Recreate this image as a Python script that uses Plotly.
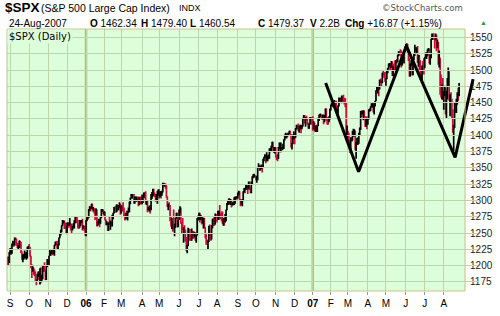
import plotly.graph_objects as go
import pandas as pd

# ---------------- data ----------------
HOLIDAYS = ["2005-09-05", "2005-11-24", "2005-12-26", "2006-01-02", "2006-01-16",
            "2006-02-20", "2006-04-14", "2006-05-29", "2006-07-04", "2006-09-04",
            "2006-11-23", "2006-12-25", "2007-01-01", "2007-01-02", "2007-01-15",
            "2007-02-19", "2007-04-06", "2007-05-28", "2007-07-04"]

OPENS = [
    1205.1, 1212.3, 1208.4,
    1220.3, 1221.6, 1218.0, 1233.4, 1236.4, 1231.7, 1241.5, 1240.6, 1231.2, 1227.2, 1227.7, 1237.9, 1231.0, 1221.3, 1210.2, 1214.6, 1215.3, 1215.6, 1215.7, 1216.9, 1227.7,
    1228.8, 1226.7, 1214.5, 1196.4, 1191.5, 1195.9, 1187.3, 1184.9, 1177.7, 1176.8, 1186.6, 1190.1, 1178.1, 1195.8, 1177.8, 1179.6, 1199.4, 1196.5, 1191.4, 1178.9, 1198.4,
    1207.0, 1202.8, 1215.0, 1219.9, 1220.1, 1222.8, 1218.6, 1220.7, 1231.0, 1234.7, 1233.8, 1229.0, 1231.2, 1242.8, 1248.3, 1254.9, 1261.2, 1265.6, 1268.3, 1257.5, 1257.4,
    1249.5, 1264.7, 1265.1, 1262.1, 1263.7, 1257.4, 1255.8, 1259.4, 1260.4, 1267.4, 1272.7, 1270.9, 1267.3, 1259.9, 1259.6, 1262.8, 1268.1, 1268.7, 1256.5, 1258.2, 1254.4,
    1248.3, 1268.8, 1273.5, 1273.4, 1285.5, 1290.2, 1289.7, 1294.2, 1286.1, 1287.6, 1283.0, 1277.9, 1285.0, 1261.5, 1263.8, 1266.9, 1264.7, 1273.8, 1283.7, 1285.2,
    1280.1, 1282.5, 1270.8, 1264.0, 1265.0, 1254.8, 1265.7, 1263.8, 1267.0, 1262.9, 1275.5, 1280.0, 1289.4, 1287.2, 1283.0, 1292.7, 1287.8, 1289.4, 1294.1,
    1280.7, 1291.2, 1289.1, 1287.2, 1278.3, 1275.9, 1278.5, 1272.2, 1281.4, 1284.1, 1297.5, 1303.0, 1305.3, 1307.3, 1305.1, 1297.2, 1305.0, 1301.7, 1303.0, 1301.6, 1293.2, 1302.9, 1300.3,
    1294.9, 1297.8, 1305.9, 1311.6, 1309.0, 1295.5, 1296.6, 1286.6, 1288.1, 1289.1, 1285.3, 1307.7, 1309.9, 1311.5, 1311.3, 1308.1, 1301.7, 1305.4, 1309.7,
    1310.6, 1305.2, 1313.2, 1308.1, 1312.3, 1325.8, 1324.7, 1325.1, 1322.9, 1305.9, 1291.2, 1294.5, 1292.1, 1270.3, 1261.8, 1267.0, 1262.1, 1256.6, 1258.6, 1272.9, 1280.2, 1259.9,
    1270.1, 1285.7, 1288.2, 1265.3, 1263.9, 1256.2, 1257.9, 1252.3, 1237.4, 1223.7, 1230.0, 1256.2, 1251.5, 1240.1, 1240.0, 1252.2, 1245.6, 1244.5, 1250.6, 1239.2, 1246.0, 1272.9,
    1270.2, 1280.2, 1270.9, 1274.1, 1265.5, 1267.3, 1272.4, 1258.6, 1242.3, 1236.2, 1234.5, 1236.9, 1259.8, 1249.1, 1240.3, 1260.9, 1268.9, 1268.4, 1263.2, 1278.6,
    1276.7, 1270.9, 1277.4, 1280.3, 1279.4, 1275.8, 1271.5, 1266.0, 1271.8, 1266.7, 1268.2, 1285.6, 1295.4, 1297.5, 1302.3, 1297.5, 1298.8, 1293.0, 1296.1, 1295.1, 1301.8, 1304.3, 1305.4,
    1303.8, 1311.0, 1313.3, 1300.3, 1294.0, 1298.9, 1299.5, 1313.0, 1318.1, 1316.3, 1319.7, 1321.2, 1317.6, 1325.2, 1318.0, 1314.8, 1326.4, 1336.3, 1336.6, 1338.9,
    1335.9, 1331.3, 1334.1, 1350.2, 1353.2, 1349.6, 1350.7, 1353.4, 1350.0, 1362.8, 1365.6, 1369.1, 1364.1, 1366.0, 1367.0, 1368.6, 1377.0, 1377.4, 1382.2, 1389.1, 1377.3, 1377.8,
    1377.9, 1367.8, 1367.3, 1364.3, 1379.8, 1382.8, 1385.7, 1378.3, 1380.9, 1384.4, 1393.2, 1396.6, 1399.8, 1401.2, 1400.5, 1402.8, 1406.1, 1401.0, 1382.0, 1386.7, 1399.5,
    1400.6, 1396.7, 1409.1, 1414.8, 1412.9, 1407.3, 1409.8, 1413.0, 1411.6, 1413.2, 1425.5, 1427.1, 1422.5, 1425.6, 1423.5, 1418.3, 1410.8, 1416.9, 1426.8, 1424.7,
    1418.3, 1416.6, 1418.3, 1409.7, 1412.8, 1412.1, 1414.9, 1423.8, 1430.7, 1431.9, 1430.6, 1426.4, 1430.5, 1423.0, 1428.0, 1440.1, 1423.9, 1422.2, 1420.6, 1428.8,
    1438.2, 1445.9, 1448.4, 1447.0, 1448.0, 1450.0, 1448.3, 1438.1, 1433.4, 1444.3, 1455.3, 1456.8, 1455.5, 1459.7, 1457.6, 1456.4, 1451.2, 1449.4, 1399.0,
    1406.8, 1403.2, 1387.2, 1374.1, 1395.4, 1392.0, 1401.9, 1402.8, 1406.6, 1378.0, 1387.2, 1392.3, 1387.0, 1402.1, 1410.9, 1435.0, 1434.5, 1436.1, 1437.5, 1428.6, 1417.2, 1422.5,
    1420.9, 1424.6, 1437.8, 1439.4, 1443.8, 1444.6, 1448.4, 1438.9, 1447.8, 1452.9, 1468.3, 1471.5, 1472.5, 1470.7, 1484.4, 1480.9, 1480.4, 1495.4, 1494.3, 1494.1,
    1482.4, 1486.3, 1495.9, 1502.4, 1505.6, 1509.5, 1507.7, 1512.6, 1491.5, 1505.9, 1503.2, 1501.2, 1514.1, 1512.8, 1522.8, 1525.1, 1524.1, 1522.3, 1507.5, 1515.7, 1518.1, 1530.2,
    1530.6, 1536.3, 1539.2, 1531.0, 1517.4, 1490.7, 1507.7, 1509.1, 1493.0, 1515.7, 1523.0, 1532.9, 1531.1, 1533.7, 1512.8, 1522.2, 1502.6, 1497.7, 1492.9, 1506.3, 1505.7,
    1503.4, 1519.4, 1524.9, 1525.4, 1530.4, 1531.9, 1510.1, 1518.8, 1547.7, 1552.5, 1549.5, 1549.4, 1546.2, 1553.1, 1534.1, 1541.6, 1511.0, 1518.1, 1482.7, 1459.0, 1473.9,
    1455.3, 1465.8, 1472.2, 1433.1, 1467.7, 1476.7, 1497.5, 1453.1, 1453.6, 1452.9, 1426.5, 1406.7, 1411.3, 1445.9, 1445.6, 1447.1, 1464.1, 1462.3,
]

HIGHS = [
    1214, 1213, 1221,
    1227, 1224, 1234, 1238, 1237, 1243, 1243, 1241, 1235, 1232, 1238, 1238, 1236, 1222, 1217, 1218, 1223, 1220, 1221, 1229, 1230,
    1233, 1229, 1215, 1202, 1199, 1197, 1194, 1191, 1179, 1187, 1191, 1191, 1196, 1197, 1186, 1200, 1200, 1205, 1192, 1199, 1210,
    1208, 1215, 1224, 1222, 1225, 1223, 1226, 1232, 1237, 1237, 1238, 1233, 1243, 1249, 1255, 1262, 1270, 1269, 1269, 1266, 1261,
    1266, 1266, 1266, 1273, 1265, 1264, 1261, 1265, 1270, 1275, 1276, 1275, 1270, 1263, 1270, 1269, 1270, 1272, 1262, 1261, 1255,
    1270, 1276, 1276, 1287, 1291, 1291, 1295, 1295, 1290, 1288, 1284, 1288, 1286, 1268, 1272, 1272, 1276, 1287, 1287, 1286,
    1283, 1283, 1271, 1268, 1266, 1266, 1275, 1269, 1267, 1278, 1281, 1290, 1290, 1292, 1294, 1293, 1293, 1297, 1295,
    1292, 1292, 1297, 1289, 1279, 1281, 1284, 1284, 1289, 1298, 1304, 1310, 1310, 1310, 1310, 1306, 1306, 1306, 1304, 1306, 1305, 1306, 1303,
    1309, 1307, 1312, 1312, 1314, 1300, 1300, 1290, 1292, 1292, 1310, 1313, 1318, 1318, 1312, 1310, 1310, 1315, 1317,
    1317, 1314, 1314, 1315, 1327, 1327, 1326, 1326, 1323, 1306, 1295, 1297, 1293, 1275, 1273, 1268, 1286, 1264, 1273, 1281, 1281, 1270,
    1286, 1291, 1289, 1266, 1273, 1259, 1262, 1255, 1244, 1232, 1258, 1257, 1256, 1250, 1257, 1253, 1253, 1251, 1251, 1247, 1273, 1277,
    1281, 1281, 1278, 1275, 1274, 1273, 1273, 1259, 1248, 1240, 1239, 1261, 1263, 1250, 1262, 1272, 1273, 1276, 1280, 1279,
    1277, 1284, 1284, 1293, 1280, 1283, 1283, 1273, 1272, 1279, 1286, 1296, 1300, 1303, 1303, 1302, 1301, 1297, 1298, 1305, 1306, 1306, 1306,
    1312, 1315, 1314, 1302, 1301, 1302, 1314, 1319, 1319, 1324, 1325, 1322, 1329, 1329, 1319, 1329, 1337, 1340, 1341, 1339,
    1338, 1338, 1351, 1357, 1354, 1353, 1355, 1354, 1364, 1367, 1371, 1370, 1374, 1369, 1370, 1380, 1380, 1384, 1390, 1390, 1382, 1382,
    1382, 1369, 1371, 1382, 1389, 1389, 1389, 1382, 1387, 1394, 1401, 1404, 1402, 1404, 1404, 1407, 1407, 1402, 1388, 1401, 1406,
    1403, 1411, 1416, 1416, 1418, 1414, 1416, 1414, 1416, 1427, 1431, 1431, 1428, 1430, 1427, 1419, 1418, 1428, 1428, 1428,
    1429, 1422, 1419, 1415, 1416, 1415, 1427, 1432, 1433, 1433, 1431, 1432, 1432, 1431, 1441, 1441, 1428, 1427, 1429, 1441,
    1447, 1450, 1449, 1450, 1454, 1451, 1453, 1440, 1446, 1458, 1457, 1457, 1461, 1460, 1462, 1457, 1457, 1450, 1415,
    1407, 1404, 1392, 1397, 1397, 1407, 1410, 1409, 1407, 1390, 1396, 1397, 1404, 1412, 1437, 1438, 1438, 1438, 1438, 1429, 1426, 1429,
    1425, 1440, 1441, 1444, 1449, 1449, 1449, 1449, 1453, 1469, 1474, 1475, 1474, 1485, 1487, 1484, 1496, 1499, 1497, 1497,
    1488, 1499, 1503, 1510, 1511, 1510, 1514, 1513, 1506, 1510, 1515, 1515, 1517, 1523, 1529, 1529, 1532, 1530, 1518, 1521, 1531, 1536,
    1540, 1541, 1540, 1532, 1518, 1510, 1515, 1511, 1516, 1526, 1539, 1535, 1535, 1537, 1523, 1523, 1515, 1506, 1507, 1514, 1518,
    1520, 1527, 1527, 1532, 1534, 1533, 1523, 1548, 1556, 1556, 1556, 1550, 1556, 1554, 1547, 1543, 1530, 1519, 1493, 1478, 1488,
    1468, 1476, 1473, 1468, 1488, 1504, 1498, 1463, 1466, 1456, 1440, 1416, 1450, 1451, 1456, 1466, 1473, 1480,
]

LOWS = [
    1201, 1201, 1204,
    1217, 1217, 1218, 1231, 1229, 1231, 1239, 1231, 1227, 1225, 1227, 1228, 1219, 1209, 1205, 1209, 1211, 1211, 1209, 1211, 1224,
    1225, 1214, 1196, 1181, 1191, 1186, 1184, 1175, 1170, 1175, 1183, 1178, 1171, 1173, 1175, 1179, 1190, 1191, 1178, 1178, 1198,
    1202, 1201, 1215, 1215, 1218, 1216, 1217, 1215, 1231, 1231, 1226, 1225, 1231, 1242, 1246, 1251, 1261, 1265, 1256, 1257, 1249,
    1249, 1261, 1258, 1262, 1254, 1250, 1254, 1257, 1257, 1265, 1265, 1267, 1257, 1256, 1258, 1261, 1265, 1254, 1256, 1253, 1246,
    1245, 1268, 1270, 1273, 1284, 1283, 1287, 1285, 1283, 1280, 1270, 1278, 1260, 1261, 1263, 1259, 1264, 1273, 1283, 1279,
    1277, 1269, 1262, 1262, 1253, 1253, 1263, 1255, 1260, 1260, 1271, 1280, 1284, 1281, 1282, 1284, 1285, 1289, 1278,
    1280, 1283, 1284, 1275, 1269, 1271, 1272, 1269, 1281, 1282, 1294, 1303, 1303, 1303, 1295, 1295, 1298, 1298, 1299, 1291, 1293, 1294, 1294,
    1294, 1296, 1304, 1303, 1294, 1293, 1282, 1285, 1283, 1280, 1285, 1302, 1306, 1307, 1305, 1298, 1300, 1295, 1307,
    1303, 1305, 1303, 1307, 1312, 1322, 1321, 1318, 1304, 1290, 1285, 1290, 1268, 1260, 1256, 1252, 1255, 1245, 1258, 1272, 1259, 1259,
    1270, 1280, 1264, 1249, 1255, 1235, 1250, 1237, 1222, 1219, 1230, 1247, 1238, 1238, 1238, 1241, 1241, 1243, 1238, 1235, 1246, 1270,
    1270, 1266, 1270, 1263, 1265, 1257, 1257, 1242, 1232, 1232, 1224, 1236, 1248, 1238, 1240, 1257, 1261, 1261, 1263, 1274,
    1266, 1270, 1270, 1273, 1271, 1268, 1264, 1261, 1261, 1266, 1268, 1285, 1293, 1293, 1295, 1293, 1289, 1292, 1292, 1293, 1295, 1302, 1301,
    1303, 1308, 1299, 1291, 1294, 1291, 1299, 1312, 1311, 1316, 1317, 1310, 1318, 1316, 1311, 1311, 1325, 1334, 1335, 1335,
    1331, 1327, 1331, 1350, 1345, 1346, 1348, 1343, 1350, 1360, 1365, 1357, 1360, 1360, 1363, 1364, 1374, 1376, 1381, 1376, 1373, 1372,
    1366, 1362, 1360, 1364, 1379, 1374, 1374, 1377, 1378, 1379, 1392, 1396, 1395, 1397, 1399, 1402, 1399, 1381, 1378, 1386, 1394,
    1386, 1396, 1409, 1409, 1406, 1404, 1409, 1403, 1409, 1413, 1425, 1418, 1413, 1423, 1416, 1410, 1410, 1416, 1423, 1416,
    1407, 1409, 1406, 1405, 1405, 1405, 1414, 1422, 1428, 1427, 1424, 1424, 1417, 1420, 1427, 1422, 1416, 1416, 1420, 1424,
    1438, 1445, 1443, 1443, 1447, 1444, 1434, 1431, 1433, 1444, 1453, 1450, 1449, 1452, 1450, 1447, 1443, 1396, 1397,
    1386, 1387, 1373, 1374, 1390, 1392, 1398, 1398, 1377, 1364, 1385, 1385, 1387, 1400, 1408, 1428, 1432, 1423, 1427, 1413, 1413, 1409,
    1416, 1424, 1436, 1437, 1443, 1442, 1435, 1432, 1444, 1452, 1467, 1464, 1460, 1470, 1480, 1474, 1480, 1492, 1488, 1482,
    1476, 1486, 1495, 1501, 1505, 1500, 1503, 1491, 1491, 1498, 1500, 1501, 1510, 1512, 1521, 1523, 1522, 1504, 1507, 1513, 1510, 1528,
    1530, 1532, 1525, 1514, 1490, 1490, 1506, 1492, 1492, 1515, 1522, 1529, 1525, 1511, 1505, 1498, 1492, 1490, 1484, 1503, 1493,
    1503, 1519, 1517, 1521, 1529, 1510, 1508, 1518, 1546, 1546, 1547, 1533, 1546, 1529, 1534, 1508, 1504, 1462, 1458, 1455, 1454,
    1439, 1460, 1432, 1426, 1455, 1476, 1453, 1429, 1451, 1425, 1404, 1371, 1411, 1434, 1434, 1447, 1453, 1460,
]

CLOSES = [
    1212.3, 1208.4, 1220.3,
    1221.6, 1218.0, 1233.4, 1236.4, 1231.7, 1241.5, 1240.6, 1231.2, 1227.2, 1227.7, 1237.9, 1231.0, 1221.3, 1210.2, 1214.6, 1215.3, 1215.6, 1215.7, 1216.9, 1227.7, 1228.8,
    1226.7, 1214.5, 1196.4, 1191.5, 1195.9, 1187.3, 1184.9, 1177.7, 1176.8, 1186.6, 1190.1, 1178.1, 1195.8, 1177.8, 1179.6, 1199.4, 1196.5, 1191.4, 1178.9, 1198.4, 1207.0,
    1202.8, 1215.0, 1219.9, 1220.1, 1222.8, 1218.6, 1220.7, 1231.0, 1234.7, 1233.8, 1229.0, 1231.2, 1242.8, 1248.3, 1254.9, 1261.2, 1265.6, 1268.3, 1257.5, 1257.4, 1249.5,
    1264.7, 1265.1, 1262.1, 1263.7, 1257.4, 1255.8, 1259.4, 1260.4, 1267.4, 1272.7, 1270.9, 1267.3, 1259.9, 1259.6, 1262.8, 1268.1, 1268.7, 1256.5, 1258.2, 1254.4, 1248.3,
    1268.8, 1273.5, 1273.4, 1285.5, 1290.2, 1289.7, 1294.2, 1286.1, 1287.6, 1283.0, 1277.9, 1285.0, 1261.5, 1263.8, 1266.9, 1264.7, 1273.8, 1283.7, 1285.2, 1280.1,
    1282.5, 1270.8, 1264.0, 1265.0, 1254.8, 1265.7, 1263.8, 1267.0, 1262.9, 1275.5, 1280.0, 1289.4, 1287.2, 1283.0, 1292.7, 1287.8, 1289.4, 1294.1, 1280.7,
    1291.2, 1289.1, 1287.2, 1278.3, 1275.9, 1278.5, 1272.2, 1281.4, 1284.1, 1297.5, 1303.0, 1305.3, 1307.3, 1305.1, 1297.2, 1305.0, 1301.7, 1303.0, 1301.6, 1293.2, 1302.9, 1300.3, 1294.9,
    1297.8, 1305.9, 1311.6, 1309.0, 1295.5, 1296.6, 1286.6, 1288.1, 1289.1, 1285.3, 1307.7, 1309.9, 1311.5, 1311.3, 1308.1, 1301.7, 1305.4, 1309.7, 1310.6,
    1305.2, 1313.2, 1308.1, 1312.3, 1325.8, 1324.7, 1325.1, 1322.9, 1305.9, 1291.2, 1294.5, 1292.1, 1270.3, 1261.8, 1267.0, 1262.1, 1256.6, 1258.6, 1272.9, 1280.2, 1259.9, 1270.1,
    1285.7, 1288.2, 1265.3, 1263.9, 1256.2, 1257.9, 1252.3, 1237.4, 1223.7, 1230.0, 1256.2, 1251.5, 1240.1, 1240.0, 1252.2, 1245.6, 1244.5, 1250.6, 1239.2, 1246.0, 1272.9, 1270.2,
    1280.2, 1270.9, 1274.1, 1265.5, 1267.3, 1272.4, 1258.6, 1242.3, 1236.2, 1234.5, 1236.9, 1259.8, 1249.1, 1240.3, 1260.9, 1268.9, 1268.4, 1263.2, 1278.6, 1276.7,
    1270.9, 1277.4, 1280.3, 1279.4, 1275.8, 1271.5, 1266.0, 1271.8, 1266.7, 1268.2, 1285.6, 1295.4, 1297.5, 1302.3, 1297.5, 1298.8, 1293.0, 1296.1, 1295.1, 1301.8, 1304.3, 1305.4, 1303.8,
    1311.0, 1313.3, 1300.3, 1294.0, 1298.9, 1299.5, 1313.0, 1318.1, 1316.3, 1319.7, 1321.2, 1317.6, 1325.2, 1318.0, 1314.8, 1326.4, 1336.3, 1336.6, 1338.9, 1335.9,
    1331.3, 1334.1, 1350.2, 1353.2, 1349.6, 1350.7, 1353.4, 1350.0, 1362.8, 1365.6, 1369.1, 1364.1, 1366.0, 1367.0, 1368.6, 1377.0, 1377.4, 1382.2, 1389.1, 1377.3, 1377.8, 1377.9,
    1367.8, 1367.3, 1364.3, 1379.8, 1382.8, 1385.7, 1378.3, 1380.9, 1384.4, 1393.2, 1396.6, 1399.8, 1401.2, 1400.5, 1402.8, 1406.1, 1401.0, 1382.0, 1386.7, 1399.5, 1400.6,
    1396.7, 1409.1, 1414.8, 1412.9, 1407.3, 1409.8, 1413.0, 1411.6, 1413.2, 1425.5, 1427.1, 1422.5, 1425.6, 1423.5, 1418.3, 1410.8, 1416.9, 1426.8, 1424.7, 1418.3,
    1416.6, 1418.3, 1409.7, 1412.8, 1412.1, 1414.9, 1423.8, 1430.7, 1431.9, 1430.6, 1426.4, 1430.5, 1423.0, 1428.0, 1440.1, 1423.9, 1422.2, 1420.6, 1428.8, 1438.2,
    1445.9, 1448.4, 1447.0, 1448.0, 1450.0, 1448.3, 1438.1, 1433.4, 1444.3, 1455.3, 1456.8, 1455.5, 1459.7, 1457.6, 1456.4, 1451.2, 1449.4, 1399.0, 1406.8,
    1403.2, 1387.2, 1374.1, 1395.4, 1392.0, 1401.9, 1402.8, 1406.6, 1378.0, 1387.2, 1392.3, 1387.0, 1402.1, 1410.9, 1435.0, 1434.5, 1436.1, 1437.5, 1428.6, 1417.2, 1422.5, 1420.9,
    1424.6, 1437.8, 1439.4, 1443.8, 1444.6, 1448.4, 1438.9, 1447.8, 1452.9, 1468.3, 1471.5, 1472.5, 1470.7, 1484.4, 1480.9, 1480.4, 1495.4, 1494.3, 1494.1, 1482.4,
    1486.3, 1495.9, 1502.4, 1505.6, 1509.5, 1507.7, 1512.6, 1491.5, 1505.9, 1503.2, 1501.2, 1514.1, 1512.8, 1522.8, 1525.1, 1524.1, 1522.3, 1507.5, 1515.7, 1518.1, 1530.2, 1530.6,
    1536.3, 1539.2, 1531.0, 1517.4, 1490.7, 1507.7, 1509.1, 1493.0, 1515.7, 1523.0, 1532.9, 1531.1, 1533.7, 1512.8, 1522.2, 1502.6, 1497.7, 1492.9, 1506.3, 1505.7, 1503.4,
    1519.4, 1524.9, 1525.4, 1530.4, 1531.9, 1510.1, 1518.8, 1547.7, 1552.5, 1549.5, 1549.4, 1546.2, 1553.1, 1534.1, 1541.6, 1511.0, 1518.1, 1482.7, 1459.0, 1473.9, 1455.3,
    1465.8, 1472.2, 1433.1, 1467.7, 1476.7, 1497.5, 1453.1, 1453.6, 1452.9, 1426.5, 1406.7, 1411.3, 1445.9, 1445.6, 1447.1, 1464.1, 1462.5, 1479.4,
]

MONTH_LABELS = ["S", "O", "N", "D", "<b>06</b>", "F", "M", "A", "M", "J", "J", "A",
                "S", "O", "N", "D", "<b>07</b>", "F", "M", "A", "M", "J", "J", "A"]
Y_TICKS = [1175, 1200, 1225, 1250, 1275, 1300, 1325, 1350, 1375, 1400, 1425,
           1450, 1475, 1500, 1525, 1550]

# hand-drawn "W" pattern line (trading-day position, price)
W_DAY = [352.3, 388.7, 441.6, 495.6, 515.5]
W_VAL = [1480, 1344, 1537, 1366, 1486]

# ---------------- calendar ----------------
dates = pd.bdate_range("2005-08-29", "2007-08-24")
dates = dates[~dates.isin(pd.to_datetime(HOLIDAYS))]
n = len(dates)
assert n == len(OPENS) == len(HIGHS) == len(LOWS) == len(CLOSES), (
    n, len(OPENS), len(HIGHS), len(LOWS), len(CLOSES))
days = list(range(n))
month_start = [i for i in range(1, n) if dates[i].month != dates[i - 1].month]
year_start = [i for i in month_start if dates[i].month == 1]

# ---------------- style / geometry ----------------
W, H = 500, 316
ML, MR, MT, MB = 7, 20, 29, 19
PLOT_RIGHT = 467
AREA_W = W - ML - MR
AREA_H = H - MT - MB
MAIN_FRAC = (PLOT_RIGHT - ML) / AREA_W

BG = "#dcfedb"
GRID = "#bcd6a8"
YEARGRID = "#aabf88"
BORDER = "#c6c28c"
RED = "#d0073b"
TXT = "#222222"
SANS = "Liberation Sans, Arial, sans-serif"
VERD = "DejaVu Sans, Verdana, sans-serif"

XR = [-0.5, 506.6]
X2R = [XR[0], XR[0] + (XR[1] - XR[0]) / MAIN_FRAC]
YR = [1161, 1563]

fig = go.Figure()
# red (down) bars first, black (up) bars drawn over them
for want_up, color in ((False, RED), (True, "#000000")):
    sel = [i for i in days if (CLOSES[i] > OPENS[i]) == want_up]
    fig.add_trace(go.Ohlc(
        x=[days[i] for i in sel],
        open=[OPENS[i] for i in sel], high=[HIGHS[i] for i in sel],
        low=[LOWS[i] for i in sel], close=[CLOSES[i] for i in sel],
        increasing=dict(line=dict(color=color, width=1.7)),
        decreasing=dict(line=dict(color=color, width=1.7)),
        tickwidth=0.5, hoverinfo="skip", showlegend=False,
        xaxis="x", yaxis="y"))
fig.add_trace(go.Scatter(
    x=W_DAY, y=W_VAL, mode="lines", line=dict(color="#000000", width=3),
    hoverinfo="skip", showlegend=False, xaxis="x2", yaxis="y"))


def px_x(px):
    return (px - ML) / AREA_W


def px_y(py):
    return (H - MB - py) / AREA_H


def note(text, x, y, size, family=SANS, color=TXT, xanchor="left"):
    return dict(text=text, x=px_x(x), y=px_y(y), xref="paper", yref="paper",
                xanchor=xanchor, yanchor="middle", showarrow=False,
                font=dict(size=size, family=family, color=color))


annotations = [
    note("<b>$SPX</b>", 3, 6.5, 13.5, color="#000"),
    note("(S&amp;P 500 Large Cap Index)", 39, 7.5, 10.5, color="#000"),
    note("INDX", 177.5, 8, 9, color="#000"),
    note("24-Aug-2007", 6.5, 23, 10, color="#000"),
    note("<b>O</b> 1462.34", 88.5, 23, 10, color="#000"),
    note("<b>H</b> 1479.40", 139.5, 23, 10, color="#000"),
    note("<b>L</b> 1460.54", 188.5, 23, 10, color="#000"),
    note("<b>C</b> 1479.37", 257.5, 23, 10, color="#000"),
    note("<b>V</b> 2.2B", 309.5, 23, 10, color="#000"),
    note("<b>Chg</b> +16.87 (+1.15%)", 344.5, 23, 10, color="#000"),
    note("\u25B2", 486, 22, 7, color="#2e9a3c", xanchor="center"),
    note("\u00A9StockCharts.com", 467, 7.5, 8.5, family=VERD, color="#555",
         xanchor="right"),
    dict(text="$SPX (Daily)", x=0, y=1, xref="x domain", yref="y domain",
         xanchor="left", yanchor="top", showarrow=False, bgcolor=BG,
         borderpad=1, font=dict(size=10, family=VERD, color="#000")),
]

shapes = [dict(type="rect", xref="x domain", yref="y domain", x0=0, x1=1,
               y0=0, y1=1, fillcolor=BG, line=dict(width=0), layer="below")]
for i in year_start:
    shapes.append(dict(type="line", xref="x", yref="y domain", x0=i, x1=i,
                       y0=0, y1=1, line=dict(color=YEARGRID, width=2.5),
                       layer="below"))
shapes.append(dict(type="rect", xref="x domain", yref="y domain", x0=0, x1=1,
                   y0=0, y1=1, line=dict(color=BORDER, width=1),
                   fillcolor="rgba(0,0,0,0)", layer="above"))

fig.update_layout(
    width=W, height=H, margin=dict(l=ML, r=MR, t=MT, b=MB, pad=0),
    paper_bgcolor="#ffffff", plot_bgcolor="rgba(0,0,0,0)",
    showlegend=False, dragmode=False,
    font=dict(family=SANS, size=10, color=TXT),
    xaxis=dict(domain=[0, MAIN_FRAC], range=XR, anchor="y",
               tickmode="array", tickvals=month_start, ticktext=MONTH_LABELS,
               showgrid=True, gridcolor=GRID, gridwidth=1, zeroline=False,
               showline=False, ticks="outside", ticklen=3, tickcolor="#9a9a9a",
               tickfont=dict(size=10, family=SANS, color="#000"),
               rangeslider=dict(visible=False), fixedrange=True),
    xaxis2=dict(domain=[0, 1], range=X2R, anchor="y", visible=False,
                fixedrange=True),
    yaxis=dict(domain=[0, 1], range=YR, side="right", anchor="x",
               tickmode="array", tickvals=Y_TICKS,
               showgrid=True, gridcolor=GRID, gridwidth=1, zeroline=False,
               showline=False, ticks="outside", ticklen=2, tickcolor="#9a9a9a",
               tickfont=dict(size=10, family=SANS, color=TXT), fixedrange=True),
    annotations=annotations,
    shapes=shapes,
)

fig.write_html("out.html")
